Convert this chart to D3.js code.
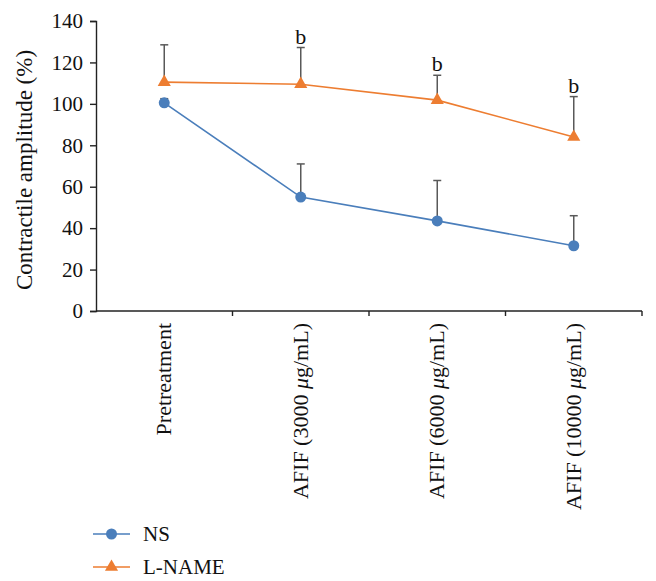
<!DOCTYPE html>
<html><head><meta charset="utf-8">
<script src="https://cdn.jsdelivr.net/npm/d3@7"></script>
<style>body{margin:0;background:#fff}svg{display:block}</style>
</head><body><svg id="c" width="656" height="581"></svg>
<script>
const categories = ["Pretreatment", "AFIF (3000 μg/mL)", "AFIF (6000 μg/mL)", "AFIF (10000 μg/mL)"];
const nsValues = [100.5, 55, 43.5, 31.5];
const nsErrors = [2, 16, 19.5, 14.5];
const lnameValues = [110.5, 109.5, 101.8, 84];
const lnameErrors = [18, 17.7, 12, 19.5];
const marks = ["", "b", "b", "b"];
const yTicks = [0, 20, 40, 60, 80, 100, 120, 140];
const seriesNames = ["NS", "L-NAME"];
const colors = ["#4a7ebb", "#ed7d31"];
const FONT = "'Liberation Serif', 'DejaVu Serif', serif";

const svg = d3.select("#c");
const x = d3.scaleBand().domain(categories).range([96, 642]).padding(0);
const y = d3.scaleLinear().domain([0, 140]).range([311, 21]);

// y axis
const ya = svg.append("g").attr("transform", "translate(96,0)")
  .call(d3.axisLeft(y).tickValues(yTicks).tickSize(6).tickPadding(7));
ya.attr("font-family", null);
ya.select(".domain").attr("stroke", "#222").attr("stroke-width", 1.4);
ya.selectAll(".tick line").attr("stroke", "#222").attr("stroke-width", 1.4);
ya.selectAll(".tick text").style("font-size", "21px").style("font-family", FONT).attr("fill", "#111");

// x axis line with boundary ticks
svg.append("line").attr("x1", 96).attr("x2", 642).attr("y1", y(0)).attr("y2", y(0))
  .attr("stroke", "#222").attr("stroke-width", 1.4);
const bounds = categories.map(c => x(c)).concat([x.range()[1]]).slice(1);
svg.selectAll(".xt").data(bounds).join("line")
  .attr("x1", d => d).attr("x2", d => d).attr("y1", y(0)).attr("y2", y(0) + 5)
  .attr("stroke", "#222").attr("stroke-width", 1.4);

// x labels rotated
const cx = c => x(c) + x.bandwidth() / 2;
categories.forEach(c => {
  const t = svg.append("text")
    .attr("transform", `translate(${cx(c) + 7},${y(0) + 12}) rotate(-90)`)
    .attr("text-anchor", "end").style("font-size", "22px").style("font-family", FONT).attr("fill", "#111");
  const parts = c.split("μ");
  if (parts.length > 1) {
    t.append("tspan").text(parts[0]);
    t.append("tspan").style("font-style", "italic").text("μ");
    t.append("tspan").text(parts[1]);
  } else t.text(c);
});

// y title
svg.append("text").attr("transform", "translate(32,170) rotate(-90)")
  .attr("text-anchor", "middle").style("font-size", "23px").style("font-family", FONT).attr("fill", "#111")
  .text("Contractile amplitude (%)");

const line = d3.line().x((d, i) => cx(categories[i])).y(d => y(d));
const series = [
  {vals: nsValues, errs: nsErrors, color: colors[0], sym: d3.symbolCircle, size: 95},
  {vals: lnameValues, errs: lnameErrors, color: colors[1], sym: d3.symbolTriangle, size: 75}
];

// lines
series.forEach(s => {
  svg.append("path").datum(s.vals).attr("d", line).attr("fill", "none")
    .attr("stroke", s.color).attr("stroke-width", 1.6);
});
// error bars
series.forEach(s => {
  s.vals.forEach((v, i) => {
    const px = cx(categories[i]);
    svg.append("line").attr("x1", px).attr("x2", px).attr("y1", y(v)).attr("y2", y(v + s.errs[i]))
      .attr("stroke", "#595959").attr("stroke-width", 1.5);
    svg.append("line").attr("x1", px - 4).attr("x2", px + 4).attr("y1", y(v + s.errs[i])).attr("y2", y(v + s.errs[i]))
      .attr("stroke", "#595959").attr("stroke-width", 1.5);
  });
});
// markers
series.forEach(s => {
  svg.selectAll(null).data(s.vals).join("path")
    .attr("transform", (d, i) => `translate(${cx(categories[i])},${y(d)})`)
    .attr("d", d3.symbol().type(s.sym).size(s.size)).attr("fill", s.color);
});
// significance marks
marks.forEach((m, i) => {
  if (!m) return;
  svg.append("text").attr("x", cx(categories[i])).attr("y", y(lnameValues[i] + lnameErrors[i]) - 4)
    .attr("text-anchor", "middle").style("font-size", "22px").style("font-family", FONT).attr("fill", "#111").text(m);
});

// legend
series.forEach((s, i) => {
  const ly = 534 + i * 33;
  svg.append("line").attr("x1", 93).attr("x2", 130).attr("y1", ly).attr("y2", ly)
    .attr("stroke", s.color).attr("stroke-width", 1.6);
  svg.append("path").attr("transform", `translate(111.5,${ly})`)
    .attr("d", d3.symbol().type(s.sym).size(s.size)).attr("fill", s.color);
  svg.append("text").attr("x", 143).attr("y", ly + 7).style("font-size", "21px").style("font-family", FONT)
    .attr("fill", "#111").text(seriesNames[i]);
});
</script></body></html>
